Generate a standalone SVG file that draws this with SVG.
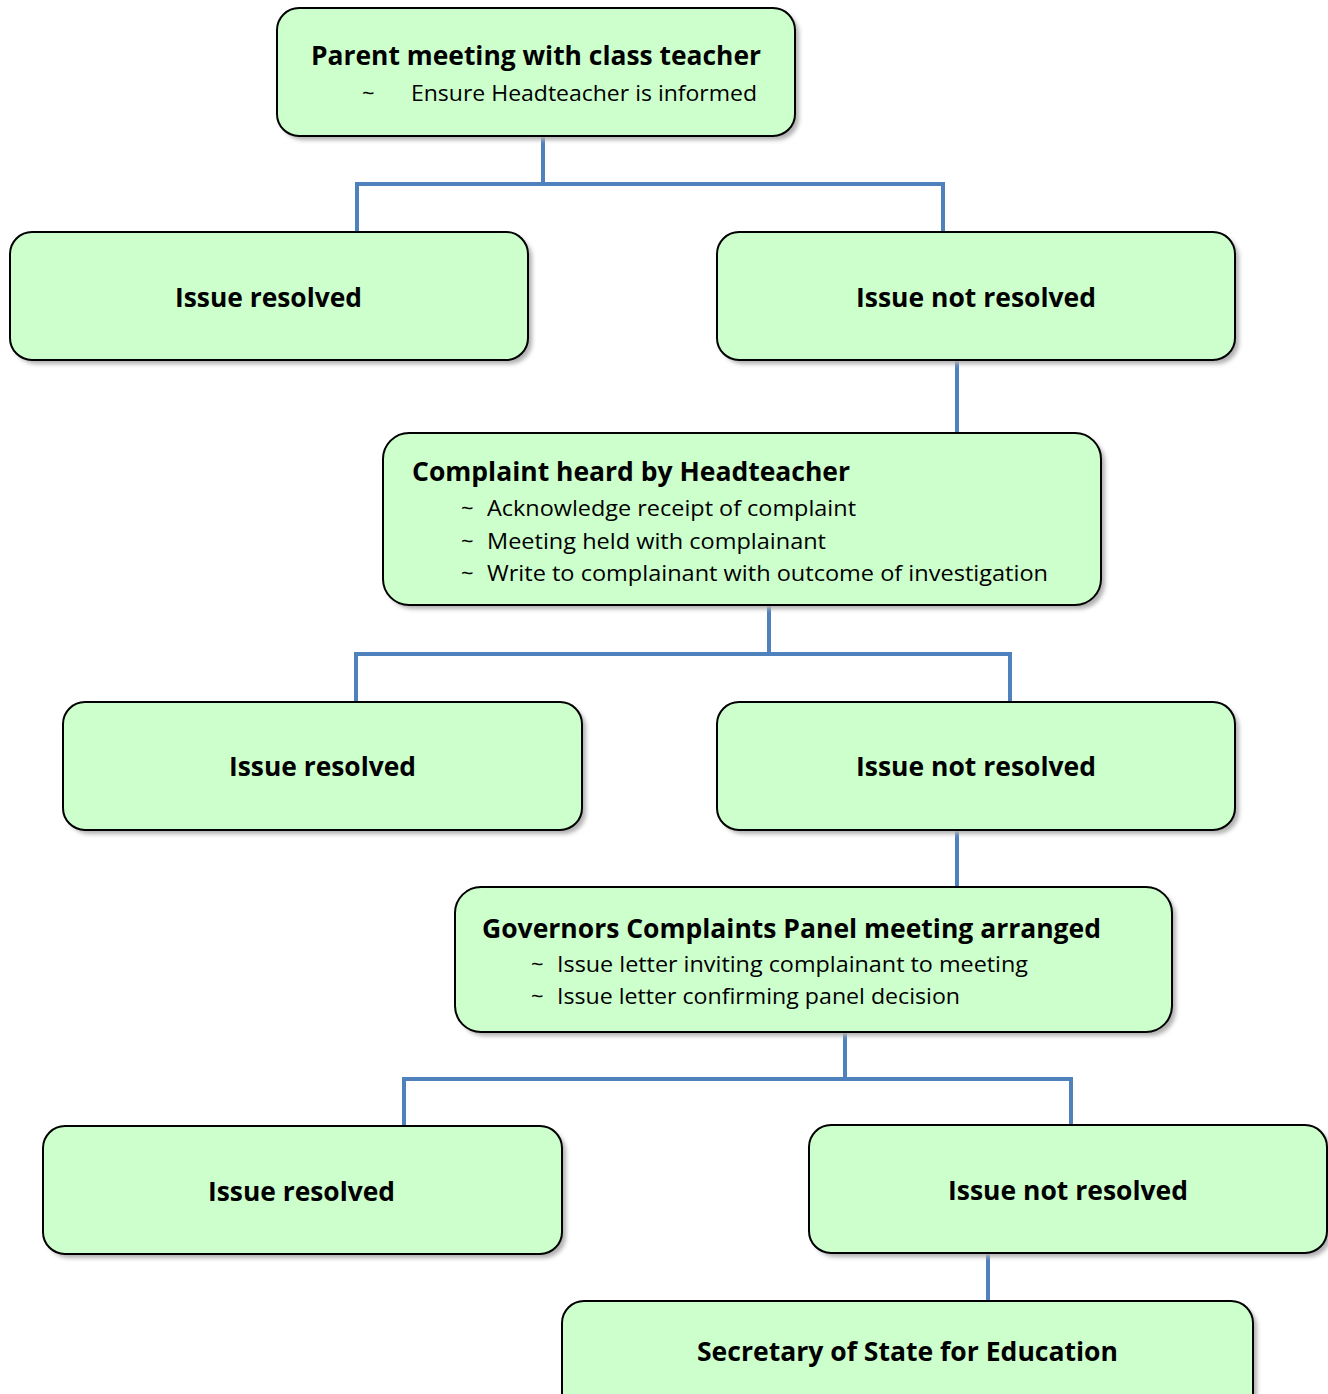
<svg xmlns="http://www.w3.org/2000/svg" width="1328" height="1394" viewBox="0 0 1328 1394">
<defs>
<filter id="sh" x="-5%" y="-10%" width="110%" height="130%">
<feGaussianBlur stdDeviation="2"/>
</filter>
</defs>
<style>
.box{fill:#CCFFCC;stroke:#000;stroke-width:2}
.shadow{fill:#b0b0b0;filter:url(#sh)}
.t{font-family:"Open Sans","Liberation Sans",sans-serif;font-weight:bold;font-size:27px;fill:#000}
.b{font-family:"Open Sans","Liberation Sans",sans-serif;font-size:22px;fill:#000}
.c{fill:none;stroke:#4F81BD;stroke-width:4}
</style>
<rect width="1328" height="1394" fill="#fff"/>
<g id="connectors">
<path class="c" d="M543 136V184M357 232V184H943V232"/>
<path class="c" d="M957 360V433"/>
<path class="c" d="M769 605V654M356 702V654H1010V702"/>
<path class="c" d="M957 830V887"/>
<path class="c" d="M845 1032V1079M404 1126V1079H1071V1125"/>
<path class="c" d="M988 1253V1301"/>
</g>
<g id="n1">
<rect class="shadow" x="281" y="12" width="518" height="128" rx="22"/>
<rect class="box" x="277" y="8" width="518" height="128" rx="22"/>
<text class="t" x="311" y="65" textLength="450" lengthAdjust="spacingAndGlyphs">Parent meeting with class teacher</text>
<text class="b" x="362" y="101">~</text>
<text class="b" x="411" y="101" textLength="346" lengthAdjust="spacingAndGlyphs">Ensure Headteacher is informed</text>
</g>
<g id="n2">
<rect class="shadow" x="14" y="236" width="518" height="128" rx="22"/>
<rect class="box" x="10" y="232" width="518" height="128" rx="22"/>
<text class="t" x="175" y="307" textLength="187" lengthAdjust="spacingAndGlyphs">Issue resolved</text>
</g>
<g id="n3">
<rect class="shadow" x="721" y="236" width="518" height="128" rx="22"/>
<rect class="box" x="717" y="232" width="518" height="128" rx="22"/>
<text class="t" x="856" y="307" textLength="240" lengthAdjust="spacingAndGlyphs">Issue not resolved</text>
</g>
<g id="n4">
<rect class="shadow" x="387" y="437" width="718" height="172" rx="26"/>
<rect class="box" x="383" y="433" width="718" height="172" rx="26"/>
<text class="t" x="412" y="481" textLength="438" lengthAdjust="spacingAndGlyphs">Complaint heard by Headteacher</text>
<text class="b" x="461" y="516" font-size="16">~</text>
<text class="b" x="487" y="516" textLength="369" lengthAdjust="spacingAndGlyphs">Acknowledge receipt of complaint</text>
<text class="b" x="461" y="549" font-size="16">~</text>
<text class="b" x="487" y="549" textLength="339" lengthAdjust="spacingAndGlyphs">Meeting held with complainant</text>
<text class="b" x="461" y="581" font-size="16">~</text>
<text class="b" x="487" y="581" textLength="561" lengthAdjust="spacingAndGlyphs">Write to complainant with outcome of investigation</text>
</g>
<g id="n5">
<rect class="shadow" x="67" y="706" width="519" height="128" rx="22"/>
<rect class="box" x="63" y="702" width="519" height="128" rx="22"/>
<text class="t" x="229" y="776" textLength="187" lengthAdjust="spacingAndGlyphs">Issue resolved</text>
</g>
<g id="n6">
<rect class="shadow" x="721" y="706" width="518" height="128" rx="22"/>
<rect class="box" x="717" y="702" width="518" height="128" rx="22"/>
<text class="t" x="856" y="776" textLength="240" lengthAdjust="spacingAndGlyphs">Issue not resolved</text>
</g>
<g id="n7">
<rect class="shadow" x="459" y="891" width="717" height="145" rx="26"/>
<rect class="box" x="455" y="887" width="717" height="145" rx="26"/>
<text class="t" x="482" y="938" textLength="619" lengthAdjust="spacingAndGlyphs">Governors Complaints Panel meeting arranged</text>
<text class="b" x="531" y="972" font-size="16">~</text>
<text class="b" x="557" y="972" textLength="471" lengthAdjust="spacingAndGlyphs">Issue letter inviting complainant to meeting</text>
<text class="b" x="531" y="1004" font-size="16">~</text>
<text class="b" x="557" y="1004" textLength="403" lengthAdjust="spacingAndGlyphs">Issue letter confirming panel decision</text>
</g>
<g id="n8">
<rect class="shadow" x="47" y="1130" width="519" height="128" rx="22"/>
<rect class="box" x="43" y="1126" width="519" height="128" rx="22"/>
<text class="t" x="208" y="1201" textLength="187" lengthAdjust="spacingAndGlyphs">Issue resolved</text>
</g>
<g id="n9">
<rect class="shadow" x="813" y="1129" width="518" height="128" rx="22"/>
<rect class="box" x="809" y="1125" width="518" height="128" rx="22"/>
<text class="t" x="948" y="1200" textLength="240" lengthAdjust="spacingAndGlyphs">Issue not resolved</text>
</g>
<g id="n10">
<rect class="shadow" x="566" y="1305" width="691" height="128" rx="22"/>
<rect class="box" x="562" y="1301" width="691" height="128" rx="22"/>
<text class="t" x="697" y="1361" textLength="421" lengthAdjust="spacingAndGlyphs">Secretary of State for Education</text>
</g>
</svg>
